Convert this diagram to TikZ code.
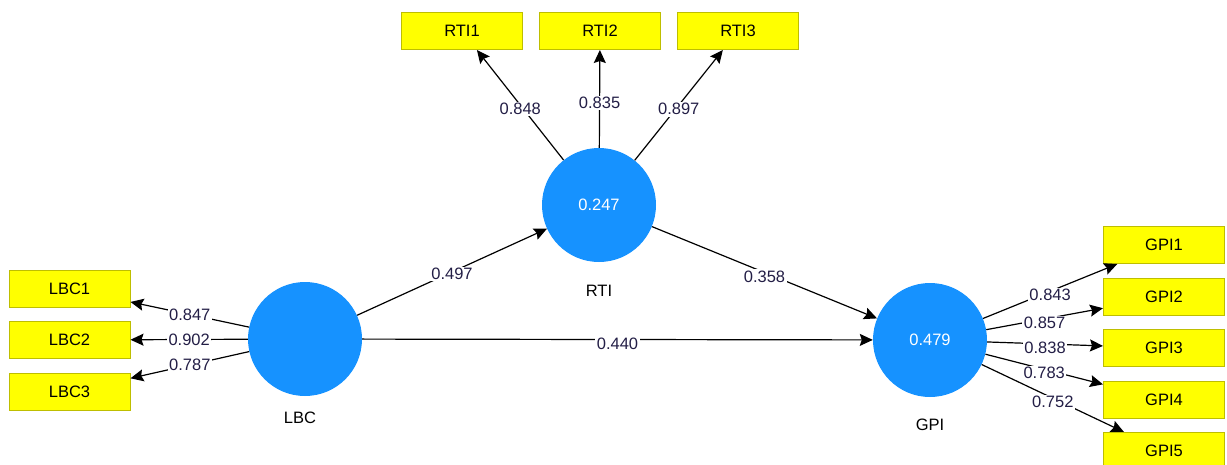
\documentclass[tikz,border=0pt]{standalone}
\usepackage{fontspec}
\setmainfont{Liberation Sans}
\usepackage{tikz}
\definecolor{latent}{RGB}{22,146,255}
\definecolor{indicator}{RGB}{255,255,0}
\definecolor{indborder}{RGB}{190,190,0}
\definecolor{coef}{RGB}{35,30,70}
\usetikzlibrary{arrows.meta}
\usetikzlibrary{positioning}

\begin{document}
\begin{tikzpicture}[x=1pt,y=-1pt, every node/.style={font=\fontsize{16.5}{19}\selectfont},
  construct/.style={circle, fill=latent, minimum size=114pt, inner sep=0pt, text=white},
  item/.style={draw=indborder, line width=1pt, fill=indicator, minimum width=121pt, minimum height=37pt, inner sep=0pt},
  loading/.style={-{Stealth[length=13pt,width=12pt,inset=2pt]}, line width=1.2pt},
  coefficient/.style={midway, fill=white, inner sep=1.5pt, text=coef, yshift=-4pt}]

  \useasboundingbox (0,0) rectangle (1227,464);

  % Constructs
  \node[construct] (lbc) at (305,339) {};
  \node[construct] (rti) at (599,205) {0.247};
  \node[construct] (gpi) at (930,340) {0.479};
  \node (lbcname) at (300,418) {LBC};
  \node (rtiname) at (599,291) {RTI};
  \node (gpiname) at (930,425) {GPI};

  % LBC indicators
  \node[item] (lbc1) at (69.5,289) {LBC1};
  \node[item] (lbc2) at (69.5,340) {LBC2};
  \node[item] (lbc3) at (69.5,392) {LBC3};

  % RTI indicators
  \node[item] (rti1) at (462,31) {RTI1};
  \node[item] (rti2) at (600,31) {RTI2};
  \node[item] (rti3) at (738,31) {RTI3};

  % GPI indicators
  \node[item] (gpi1) at (1164,245) {GPI1};
  \node[item] (gpi2) at (1164,297) {GPI2};
  \node[item] (gpi3) at (1164,348) {GPI3};
  \node[item] (gpi4) at (1164,400) {GPI4};
  \node[item] (gpi5) at (1164,451) {GPI5};

  % Outer loadings
  \draw[loading] (lbc) -- (lbc1) node[coefficient, yshift=4pt] {0.847};
  \draw[loading] (lbc) -- (lbc2) node[coefficient, yshift=4pt] {0.902};
  \draw[loading] (lbc) -- (lbc3) node[coefficient, yshift=4pt] {0.787};
  \draw[loading] (rti) -- (rti1) node[coefficient] {0.848};
  \draw[loading] (rti) -- (rti2) node[coefficient] {0.835};
  \draw[loading] (rti) -- (rti3) node[coefficient] {0.897};
  \draw[loading] (gpi) -- (gpi1) node[coefficient] {0.843};
  \draw[loading] (gpi) -- (gpi2) node[coefficient] {0.857};
  \draw[loading] (gpi) -- (gpi3) node[coefficient] {0.838};
  \draw[loading] (gpi) -- (gpi4) node[coefficient] {0.783};
  \draw[loading] (gpi) -- (gpi5) node[coefficient] {0.752};

  % Path coefficients
  \draw[loading] (lbc) -- (rti) node[coefficient, yshift=2pt] {0.497};
  \draw[loading] (rti) -- (gpi) node[coefficient] {0.358};
  \draw[loading] (lbc) -- (gpi) node[coefficient] {0.440};

\end{tikzpicture}
\end{document}
